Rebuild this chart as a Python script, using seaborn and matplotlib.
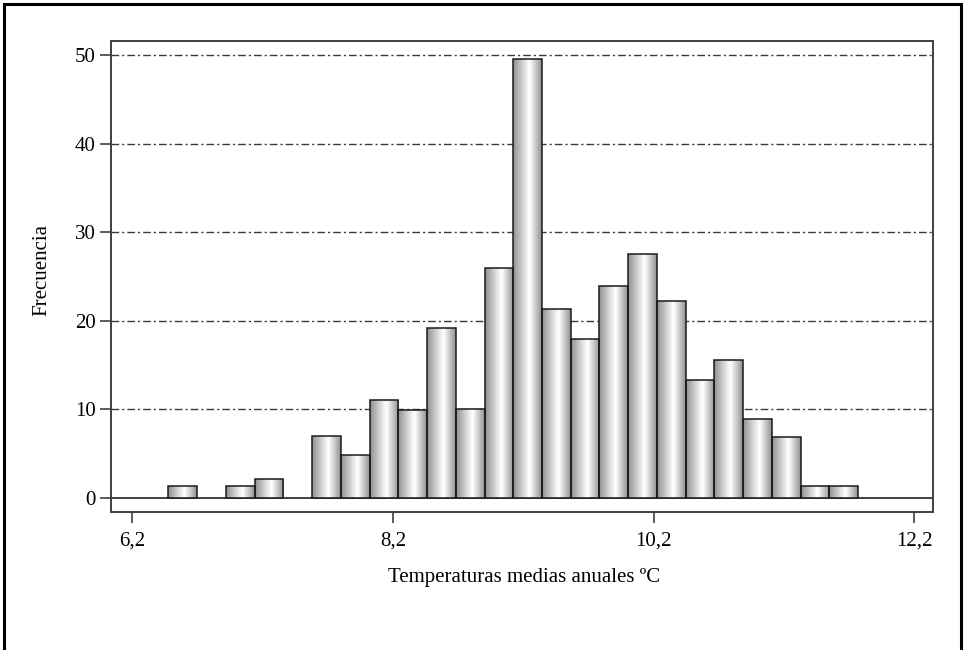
import numpy as np
import pandas as pd
import matplotlib
matplotlib.use("Agg")
import matplotlib.pyplot as plt
from matplotlib.patches import Rectangle
import seaborn as sns

# ---- data ----
bin_start = 6.476
bin_width = 0.2205
frequencies = [1.3, 0, 1.3, 2.2, 0, 7.0, 4.8, 11.1, 9.9, 19.2, 10.0, 26.0,
               49.6, 21.3, 17.9, 23.9, 27.5, 22.2, 13.3, 15.6, 8.9, 6.9, 1.3, 1.3]
x_ticks = [6.2, 8.2, 10.2, 12.2]
x_tick_labels = ["6,2", "8,2", "10,2", "12,2"]
y_ticks = [0, 10, 20, 30, 40, 50]
x_label = "Temperaturas medias anuales ºC"
y_label = "Frecuencia"

n_bins = len(frequencies)
edges = [bin_start + bin_width * i for i in range(n_bins + 1)]
centers = [(edges[i] + edges[i + 1]) / 2 for i in range(n_bins)]
df = pd.DataFrame({"temp": centers, "freq": frequencies})

sns.set_theme(style="white")
plt.rcParams["font.family"] = ["Liberation Serif", "DejaVu Serif"]

fig = plt.figure(figsize=(9.66, 6.5), dpi=100)
ax = fig.add_axes([111 / 966, 1 - 512 / 650, 822 / 966, 471 / 650])

sns.histplot(data=df, x="temp", weights="freq", bins=edges, ax=ax,
             stat="count", element="bars", fill=True,
             color="white", edgecolor="#1a1a1a", linewidth=1.1, alpha=1)

# cylindrical grey gradient inside each bar
t = np.linspace(0, 1, 256)
peak = 0.57
prof = np.where(t < peak,
                1 - 0.44 * ((peak - t) / peak) ** 1.05,
                1 - 0.44 * ((t - peak) / (1 - peak)) ** 1.05)
grad = prof[np.newaxis, :]
for p in ax.patches:
    h = p.get_height()
    if h <= 0:
        p.set_visible(False)
        continue
    x0 = p.get_x()
    w = p.get_width()
    im = ax.imshow(grad, extent=[x0, x0 + w, 0, h], aspect="auto",
                   cmap="gray", vmin=0, vmax=1, zorder=1.1,
                   interpolation="bilinear")
    im.set_clip_path(p)
    p.set_facecolor("none")
    p.set_zorder(1.2)

ax.set_aspect("auto")
ax.set_xlim(6.036, 12.342)
ax.set_ylim(-1.58, 51.58)
ax.set_xticks(x_ticks)
ax.set_xticklabels(x_tick_labels)
ax.set_yticks(y_ticks)
ax.set_yticklabels([str(v) for v in y_ticks])

frame_col = "#404040"
for s in ax.spines.values():
    s.set_color(frame_col)
    s.set_linewidth(1.4)

ax.tick_params(axis="both", which="major", direction="out", length=8,
               width=1.2, color=frame_col, labelsize=15, labelcolor="black",
               bottom=True, left=True, top=False, right=False)
ax.tick_params(axis="x", pad=6)
ax.tick_params(axis="y", pad=3)

ax.set_axisbelow(True)
ax.yaxis.grid(True, color="#3a3a3a", linewidth=1.0, linestyle=(0, (5.5, 2.2, 1.5, 2.2)))
ax.xaxis.grid(False)
gl = ax.get_ygridlines()
gl[0].set_linestyle("-")
gl[0].set_linewidth(1.4)
gl[0].set_color(frame_col)

ax.set_xlabel(x_label, fontsize=15, va="center", color="black")
ax.set_ylabel(y_label, fontsize=15, va="center", color="black")
ax.xaxis.set_label_coords(0.5024, -0.140)
ax.yaxis.set_label_coords(-0.0839, 0.514)

# outer frame of the picture
fig.patches.append(Rectangle((4 / 966, -0.05), (961 - 4) / 966, 1.05 - 4 / 650,
                             transform=fig.transFigure, fill=False,
                             edgecolor="black", linewidth=2.2))

fig.savefig("out.png", dpi=100)
